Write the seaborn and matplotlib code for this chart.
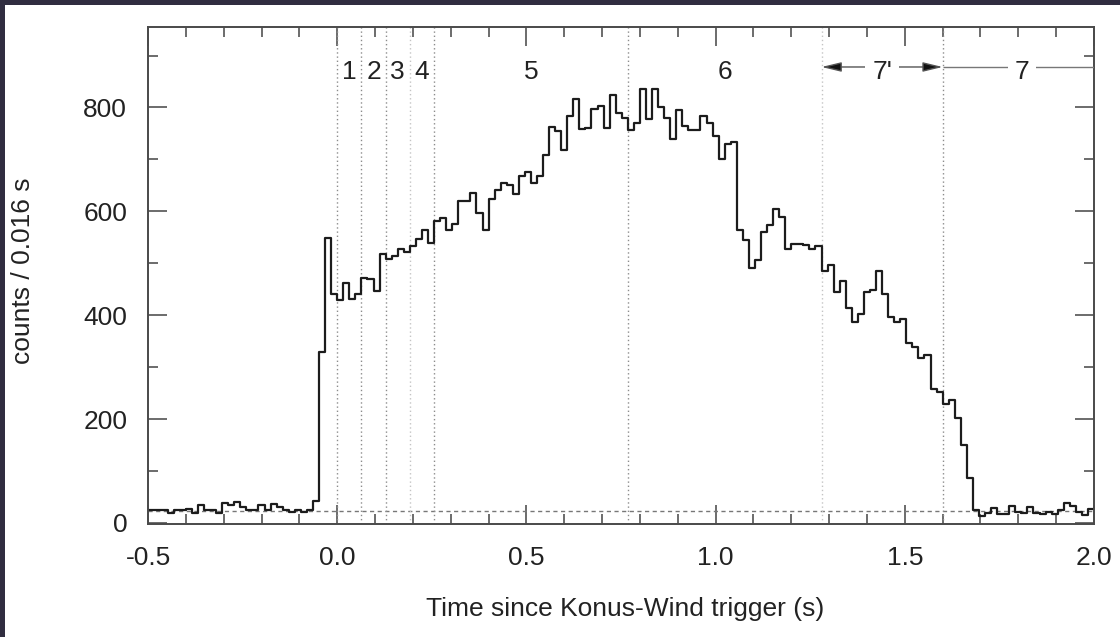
import numpy as np
import pandas as pd
import matplotlib
matplotlib.use("Agg")
import matplotlib.pyplot as plt
from matplotlib.patches import Rectangle, ArrowStyle
from matplotlib.ticker import MultipleLocator, FixedLocator
import seaborn as sns

# ---------------- data ----------------
bin_width = 0.016          # s
first_bin_start = -0.512   # s

counts_background_pre = [25, 25, 25, 24, 19, 24, 24, 27, 19, 35, 24, 24, 20, 38, 35,
                         40, 30, 24, 24, 35, 24, 37, 30, 24, 21, 24, 22, 24, 43]
counts_rise = [329, 548, 440, 429, 463, 431, 440, 472, 469, 447, 517, 508, 514, 527,
               521, 533, 546, 565, 540, 581, 588, 565, 575]
counts_peak = [620, 620, 636, 597, 565, 623, 642, 654, 650, 633, 669, 676, 655, 668,
               708, 762, 755, 718, 783, 817, 758, 760, 797, 803, 761, 824, 790, 780,
               756, 771, 835, 777, 835, 801, 780, 740, 795, 764, 756, 756, 783, 771,
               745, 700, 729, 733]
counts_decay = [564, 544, 490, 506, 560, 573, 604, 590, 527, 538, 538, 535, 527, 533,
                485, 496, 444, 466, 413, 386, 403, 444, 448, 485, 440, 397, 386, 392,
                346, 339, 317, 324, 258, 252, 230, 237, 202, 151, 87, 24]
counts_background_post = [14, 20, 28, 17, 17, 33, 22, 20, 30, 20, 18, 22, 18, 24, 38,
                          33, 22, 16, 26]

background_level = 23

interval_bounds = [0.0, 0.064, 0.128, 0.192, 0.256, 0.768, 1.280, 1.600]
interval_labels = ["1", "2", "3", "4", "5", "6"]
interval_label_x = [0.032, 0.096, 0.160, 0.224, 0.512, 1.024]
label_7p, label_7p_x = "7'", 1.44
label_7, label_7_x = "7", 1.81

x_ticks = [-0.5, 0.0, 0.5, 1.0, 1.5, 2.0]
x_tick_labels = ["-0.5", "0.0", "0.5", "1.0", "1.5", "2.0"]
y_ticks = [0, 200, 400, 600, 800]
y_tick_labels = ["0", "200", "400", "600", "800"]

x_label = "Time since Konus-Wind trigger (s)"
y_label = "counts / 0.016 s"

# ---------------- build ----------------
counts = np.array(counts_background_pre + counts_rise + counts_peak +
                  counts_decay + counts_background_post, dtype=float)
n_bins = len(counts)
edges = [round(first_bin_start + bin_width * i, 6) for i in range(n_bins + 1)]
centers = [0.5 * (edges[i] + edges[i + 1]) for i in range(n_bins)]
df = pd.DataFrame({"t": centers, "counts": counts})

sns.set_theme(style="white")
plt.rcParams["font.family"] = ["Liberation Sans", "DejaVu Sans"]

W, H = 1120, 637
fig = plt.figure(figsize=(W / 100, H / 100), dpi=100, facecolor="#302d40")
fig.add_artist(Rectangle((5 / W, 0), 1 - 5 / W, 1 - 5 / H, transform=fig.transFigure,
                         facecolor="white", edgecolor="none", zorder=-10))

ax = fig.add_axes([148 / W, 1 - 524 / H, (1094 - 148) / W, (524 - 27) / H])
ax.set_facecolor("white")

text_color = "#222222"
fs = 19

# background level
ax.axhline(background_level, color="#777777", lw=1.0, ls=(0, (3, 2.5)), zorder=1)

# interval boundaries
light = {0.192, 1.280}
for b in interval_bounds:
    ax.axvline(b, color="#c4c4c4" if b in light else "#8c8c8c", lw=1.0,
               ls=(0, (1, 2)), zorder=1)

# light curve
sns.histplot(data=df, x="t", weights="counts", bins=edges, element="step", fill=False,
             color="#1c1c1c", linewidth=1.6, ax=ax)

ax.set_xlim(-0.5, 2.0)
ax.set_ylim(-2, 955)

# interval labels
y_txt = 855
for lab, xl in zip(interval_labels, interval_label_x):
    ax.text(xl, y_txt, lab, ha="center", va="baseline", fontsize=fs, color=text_color,
            zorder=5)

y_arr = 878
ax.annotate("", xy=(interval_bounds[6], y_arr), xytext=(interval_bounds[7], y_arr),
            arrowprops=dict(arrowstyle=ArrowStyle("<|-|>", head_length=12, head_width=2.9),
                            mutation_scale=1, edgecolor="#555555", facecolor="#111111",
                            lw=1.0, shrinkA=0, shrinkB=0), zorder=4)
ax.hlines(y_arr, interval_bounds[7], 2.0, color="#777777", lw=1.0, zorder=4)
bbox = dict(facecolor="white", edgecolor="none", pad=5)
ax.text(label_7p_x, y_txt, label_7p, ha="center", va="baseline", fontsize=fs,
        color=text_color, bbox=bbox, zorder=5)
ax.text(label_7_x, y_txt, label_7, ha="center", va="baseline", fontsize=fs,
        color=text_color, bbox=bbox, zorder=5)

# axes styling
ax.xaxis.set_major_locator(FixedLocator(x_ticks))
ax.set_xticklabels(x_tick_labels)
ax.xaxis.set_minor_locator(MultipleLocator(0.1))
ax.yaxis.set_major_locator(FixedLocator(y_ticks))
ax.set_yticklabels(y_tick_labels)
ax.yaxis.set_minor_locator(MultipleLocator(100))

for s in ax.spines.values():
    s.set_visible(True)
    s.set_color("#4a4a4a")
    s.set_linewidth(1.4)

ax.tick_params(which="both", direction="in", top=True, right=True, bottom=True,
               left=True, color="#444444", width=1.1, labelsize=fs,
               labelcolor=text_color)
ax.tick_params(which="major", length=14)
ax.tick_params(which="minor", length=7)
ax.tick_params(axis="x", which="major", pad=16)
ax.tick_params(axis="y", which="major", pad=15)

ax.set_xlabel(x_label, fontsize=fs, color=text_color)
ax.set_ylabel(y_label, fontsize=fs, color=text_color)
ax.xaxis.set_label_coords(0.504, -0.147)
ax.yaxis.set_label_coords(-0.119, 0.51)
ax.grid(False)

fig.savefig("out.png", dpi=100, facecolor=fig.get_facecolor())
